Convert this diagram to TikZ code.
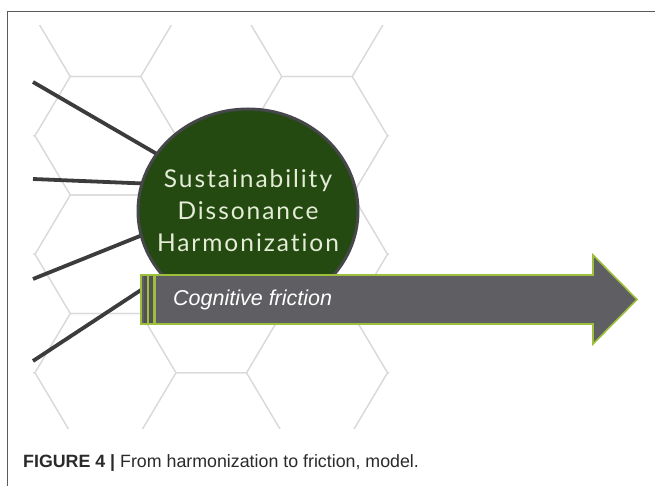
\documentclass[tikz,border=0pt]{standalone}
\usepackage{fontspec}
\setmainfont{Liberation Sans}
\newfontfamily\hubfont[LetterSpace=8,Ligatures=NoCommon]{Lato}
\usetikzlibrary{shapes.geometric,calc}

\definecolor{hexgrey}{HTML}{DADADA}
\definecolor{spokegrey}{HTML}{3C3C3C}
\definecolor{hubgreen}{HTML}{244A12}
\definecolor{hubedge}{HTML}{45474A}
\definecolor{hubtext}{HTML}{E4EDD6}
\definecolor{arrowfill}{HTML}{5F5F63}
\definecolor{arrowedge}{HTML}{9DBF3B}
\definecolor{stripedark}{HTML}{525255}
\definecolor{framegrey}{HTML}{5A5A5A}
\definecolor{captext}{HTML}{2A2A2A}

\tikzset{
  hexline/.style={draw=hexgrey, line width=1.2pt, line join=miter},
  spoke/.style={draw=spokegrey, line width=3.8pt},
  hub/.style={ellipse, fill=hubgreen, draw=hubedge, line width=3pt,
    minimum width=220pt, minimum height=204pt, inner sep=0pt},
  hubtitle/.style={inner sep=0pt, text=hubtext, align=center,
    font=\hubfont\fontsize{24.5}{32}\selectfont},
  bigarrow/.style={fill=arrowfill, draw=arrowedge, line width=1.6pt, line join=miter},
  framerule/.style={draw=framegrey, line width=1pt}
}

\begin{document}
\begin{tikzpicture}[x=1pt,y=-1pt]
\useasboundingbox (0,0) rectangle (655,486);

% page frame
\draw[framerule] (7.5,486) -- (7.5,11.5) -- (655,11.5);

% honeycomb background
\begin{scope}
  \clip (33,26) rectangle (389,428);
  \foreach \k in {-1,...,4}{
    \foreach \j in {-1,...,4}{
      \pgfmathsetmacro\cx{105.5+105.75*\k}
      \pgfmathsetmacro\cy{135.75+118.5*\j-59.25*mod(\k+2,2)}
      \draw[hexline] (\cx-70.5,\cy) -- (\cx-35.25,\cy-59.25) -- (\cx+35.25,\cy-59.25)
        -- (\cx+70.5,\cy) -- (\cx+35.25,\cy+59.25) -- (\cx-35.25,\cy+59.25) -- cycle;
    }
  }
\end{scope}

% free ends of the spokes
\coordinate (s1) at (33,82);
\coordinate (s2) at (33,179);
\coordinate (s3) at (33,279);
\coordinate (s4) at (33,361);
\coordinate (arrL) at (141,290);

% spokes run under the hub, which is drawn on top of them
\path (248,211) coordinate (hubc);
\draw[spoke] (s1) -- ($(hubc)+(-110*0.83,-102*0.56)$);
\draw[spoke] (s2) -- ($(hubc)+(-110*0.96,-102*0.27)$);
\draw[spoke] (s3) -- ($(hubc)+(-110*0.97,102*0.24)$);
\draw[spoke] (s4) -- (arrL);

\node[hub] (hub) at (hubc) {};
\node[hubtitle] (hubtitle) at (hub.center) {Sustainability\\Dissonance\\Harmonization};

% arrow
\draw[bigarrow] (141,275) coordinate (arrTL) -- (593,275) -- (593,255) -- (637,299.5) coordinate (tip)
  -- (593,344) -- (593,324) -- (141,324) -- cycle;
\fill[stripedark] (143.5,276) rectangle (147,323);
\fill[arrowedge] (147,276) rectangle (148.6,323);
\fill[stripedark] (148.6,276) rectangle (152.5,323);
\fill[arrowedge] (152.5,276) rectangle (155.5,323);
\draw[arrowedge, line width=1.6pt] (141,275) -- (141,324);

\node[anchor=west, inner sep=0pt, text=white,
  font=\fontsize{21.5}{24}\selectfont\itshape] (fric) at (173,299.5) {Cognitive friction};

% caption
\node[anchor=base west, inner sep=0pt, text=captext,
  font=\fontsize{17.8}{20}\selectfont] (cap) at (23,467)
  {\textbf{FIGURE 4 |} From harmonization to friction, model.};
\end{tikzpicture}
\end{document}
